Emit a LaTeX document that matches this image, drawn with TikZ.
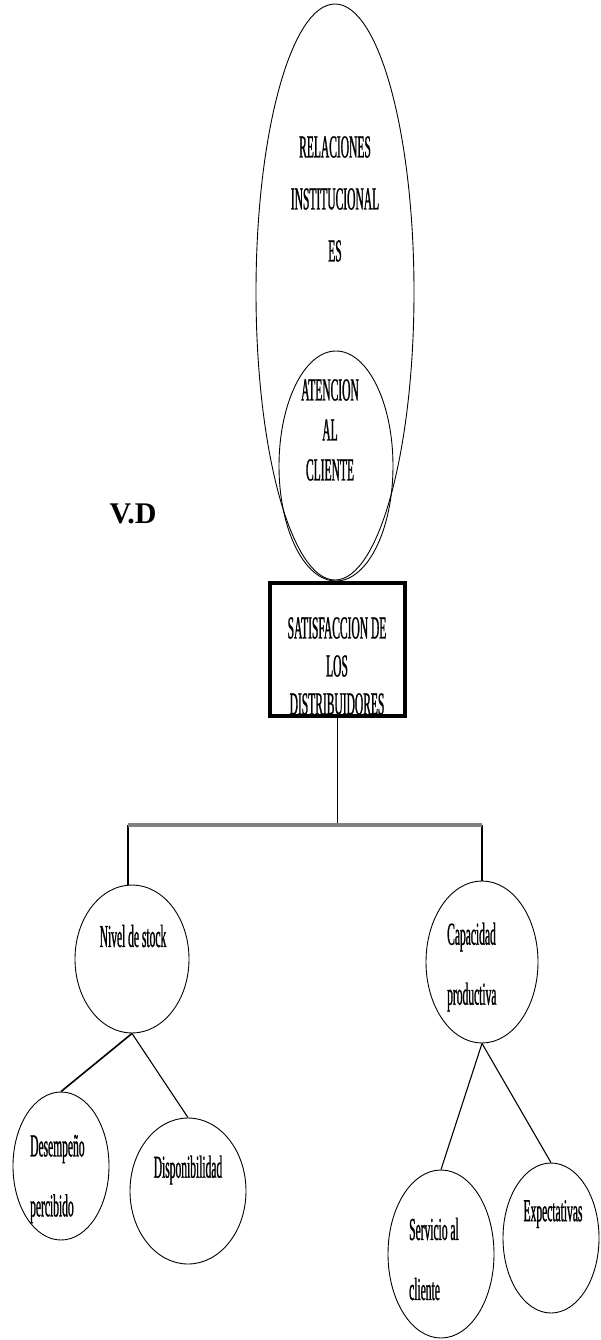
\documentclass[tikz,border=0pt]{standalone}
\usepackage{fontspec}
\usetikzlibrary{shapes.geometric}
\newfontfamily\cond[FakeStretch=0.36,FakeBold=0.8]{Liberation Serif}
\newfontfamily\tnr{Liberation Serif}
\begin{document}
\begin{tikzpicture}[x=1pt,y=-1pt,
  ell/.style={draw, ellipse, inner sep=0pt, line width=0.9pt},
  lbl/.style={font=\cond\fontsize{32}{60}\selectfont, inner sep=0pt},
  conn/.style={line width=1.1pt}]
\useasboundingbox[fill=white] (0,0) rectangle (600,1340);
% upper ellipses
\node[ell, minimum width=158pt, minimum height=576pt] (outer) at (335,292) {};
\node[ell, minimum width=114pt, minimum height=230pt] (inner) at (336,466) {};
\node[lbl, font=\cond\fontsize{32}{52}\selectfont, align=center] (relT) at (335,199) {RELACIONES\\INSTITUCIONAL\\ES};
\node[lbl, font=\cond\fontsize{32}{40}\selectfont, align=center] (atenT) at (330,430) {ATENCION\\AL\\CLIENTE};
\node[font=\tnr\bfseries\fontsize{30}{32}\selectfont, inner sep=0pt] (vd) at (133,514) {V.D};
% main box
\node[draw, line width=3.6pt, minimum width=135pt, minimum height=133pt, inner sep=0pt] (box) at (337.5,649.5) {};
\node[lbl, font=\cond\fontsize{32}{38}\selectfont, align=center] (boxT) at (337,666) {SATISFACCION DE\\LOS\\DISTRIBUIDORES};
% bar
\coordinate (barL) at (128,825);
\coordinate (barR) at (482,825);
\draw[conn] (box.south) -- (box.south |- barL);
% second level
\node[ell, minimum width=114pt, minimum height=148pt] (nivel) at (132,959) {};
\node[lbl] (nivelT) at (133,936) {Nivel de stock};
\node[ell, minimum width=112pt, minimum height=162pt] (cap) at (482,962) {};
\node[lbl, align=left, anchor=west] (capT) at (447,967) {Capacidad\\productiva};
\draw[conn] (barL) -- (barL |- nivel.north);
\draw[conn] (barR) -- (cap.north);
\draw[line width=3.5pt, black!50] (barL) -- (barR);
% third level
\node[ell, minimum width=96pt, minimum height=148pt] (desemp) at (61,1166) {};
\node[lbl, align=left, anchor=west] (desempT) at (30,1179) {Desempeño\\percibido};
\node[ell, minimum width=116pt, minimum height=146pt] (dispo) at (188,1191) {};
\node[lbl] (dispoT) at (188,1170) {Disponibilidad};
\node[ell, minimum width=106pt, minimum height=168pt] (serv) at (441,1254) {};
\node[lbl, align=left, anchor=west] (servT) at (409,1259) {Servicio al\\cliente};
\node[ell, minimum width=96pt, minimum height=150pt] (expec) at (551,1238) {};
\node[lbl] (expecT) at (553,1214) {Expectativas};
\draw[line width=1.6pt] (nivel.south) -- (desemp.north);
\draw[conn] (nivel.south) -- (dispo.north);
\draw[conn] (cap.south) -- (serv.north);
\draw[conn] (cap.south) -- (expec.north);
\end{tikzpicture}
\end{document}
